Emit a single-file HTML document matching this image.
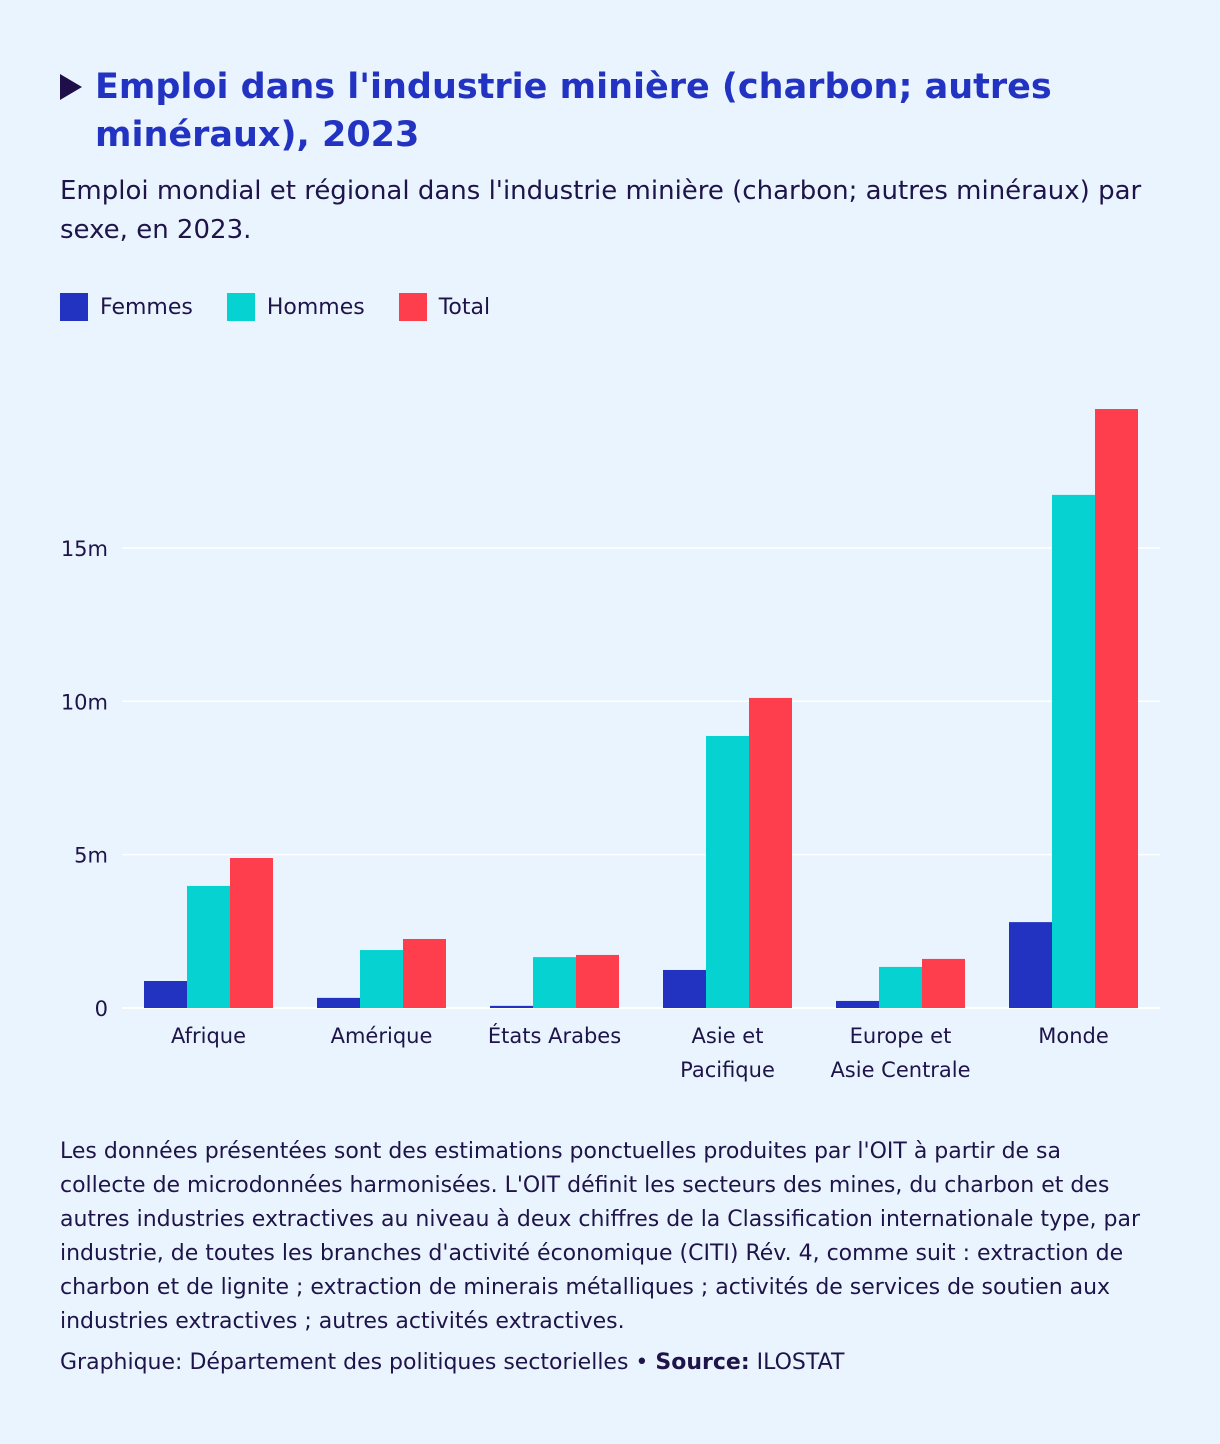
<!DOCTYPE html>
<html><head><meta charset="utf-8"><style>
body{margin:0;background:#eaf4fe;font-family:"DejaVu Sans","Liberation Sans",sans-serif;color:#1e1449;}
#wrap{position:relative;width:1220px;height:1444px;}
.title{position:absolute;left:95px;top:63px;font-size:35px;font-weight:bold;color:#2233c2;line-height:48px;white-space:nowrap}
.tri{position:absolute;left:60px;top:74px;width:0;height:0;border-left:22px solid #1e0f4a;border-top:13px solid transparent;border-bottom:13px solid transparent}
.sub{position:absolute;left:60px;top:172px;font-size:26px;line-height:39px;white-space:nowrap}
.legend{position:absolute;left:60px;top:293px;font-size:22px;display:flex}
.li{display:flex;align-items:center;margin-right:34px}
.sw{width:28px;height:28px;margin-right:12px}
.note{position:absolute;left:60px;top:1135px;font-size:22px;line-height:34px;white-space:nowrap}
.credit{position:absolute;left:60px;top:1350px;font-size:22px;white-space:nowrap}
svg text{font-family:"DejaVu Sans","Liberation Sans",sans-serif;fill:#1e1449;font-size:21px}
</style></head><body><div id="wrap">
<div class="tri"></div>
<div class="title">Emploi dans l'industrie minière (charbon; autres<br>minéraux), 2023</div>
<div class="sub">Emploi mondial et régional dans l'industrie minière (charbon; autres minéraux) par<br>sexe, en 2023.</div>
<div class="legend">
<div class="li"><div class="sw" style="background:#2233c2"></div>Femmes</div>
<div class="li"><div class="sw" style="background:#06d3d1"></div>Hommes</div>
<div class="li"><div class="sw" style="background:#fe3d4d"></div>Total</div>
</div>
<svg id="chart" width="1220" height="1444" style="position:absolute;left:0;top:0"></svg>
<div class="note">Les données présentées sont des estimations ponctuelles produites par l'OIT à partir de sa<br>collecte de microdonnées harmonisées. L'OIT définit les secteurs des mines, du charbon et des<br>autres industries extractives au niveau à deux chiffres de la Classification internationale type, par<br>industrie, de toutes les branches d'activité économique (CITI) Rév. 4, comme suit : extraction de<br>charbon et de lignite ; extraction de minerais métalliques ; activités de services de soutien aux<br>industries extractives ; autres activités extractives.</div>
<div class="credit">Graphique: Département des politiques sectorielles • <b>Source:</b> ILOSTAT</div>
</div>
<script>
const categories=[["Afrique"],["Amérique"],["États Arabes"],["Asie et","Pacifique"],["Europe et","Asie Centrale"],["Monde"]];
const femmes=[0.88,0.33,0.07,1.24,0.23,2.8];
const hommes=[3.98,1.89,1.66,8.87,1.34,16.73];
const total=[4.89,2.25,1.73,10.11,1.6,19.53];
const ticks=[0,5,10,15];
const tickLabels=["0","5m","10m","15m"];
const seriesNames=["femmes","hommes","total"];
const colors=["#2233c2","#06d3d1","#fe3d4d"];
const NS="http://www.w3.org/2000/svg",svg=document.getElementById("chart");
const x0=122,x1=1160,yBase=1008,pxPer=30.67;
const band=(x1-x0)/categories.length,bw=43;
const y=v=>yBase-v*pxPer;
function mk(t,a){const e=document.createElementNS(NS,t);for(const k in a)e.setAttribute(k,a[k]);svg.appendChild(e);return e;}
ticks.forEach((t,i)=>{
 if(t>0){const l=mk("line",{x1:x0,x2:x1,y1:y(t),y2:y(t),stroke:"#ffffff","stroke-width":1.5});
 
 }
 const tx=mk("text",{x:108,y:y(t)+8,"text-anchor":"end"});tx.textContent=tickLabels[i];
 
 
});
const base=mk("line",{x1:x0,x2:x1,y1:yBase,y2:yBase,stroke:"#ffffff","stroke-width":2});


[femmes,hommes,total].forEach((s,si)=>{
 s.forEach((v,i)=>{
  const cx=x0+band*(i+0.5);
  const r=mk("rect",{x:cx-1.5*bw+si*bw,y:y(v),width:bw,height:v*pxPer,fill:colors[si]});
  
  
 });
});
categories.forEach((c,i)=>{
 const cx=x0+band*(i+0.5);
 c.forEach((line,j)=>{
  const t=mk("text",{x:cx,y:1043+j*34,"text-anchor":"middle"});t.textContent=line;
  
  
 });
});
</script></body></html>
